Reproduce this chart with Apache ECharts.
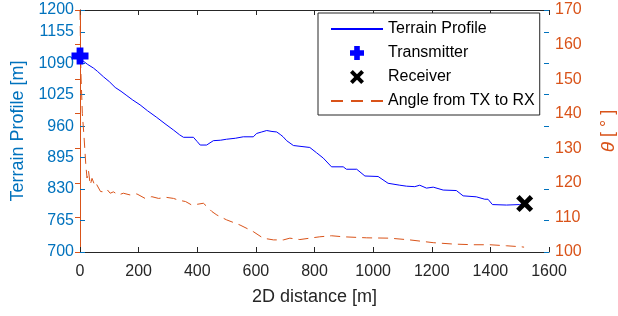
<!DOCTYPE html>
<html>
<head>
<meta charset="utf-8">
<script src="https://cdn.jsdelivr.net/npm/echarts@6/dist/echarts.min.js"></script>
<style>
  html, body { margin: 0; padding: 0; background: #fff; }
  #chart { width: 618px; height: 316px; }
</style>
</head>
<body>
<div id="chart"></div>
<script>
// terrain profile (distance m, height m)
var terrainDist = [0, 10, 25, 46, 60, 80, 100, 120, 140, 160, 180, 205, 230, 262, 290, 319, 340, 353, 387, 400, 410, 432, 455, 480, 500, 530, 557, 591, 603, 620, 637, 655, 671, 685, 693, 705, 728, 784, 807, 830, 858, 898, 909, 944, 972, 1017, 1051, 1091, 1114, 1142, 1159, 1182, 1205, 1239, 1284, 1307, 1352, 1381, 1392, 1407, 1455, 1500, 1515];
var terrainHeight = [1098, 1095, 1088, 1080, 1073, 1062, 1052, 1040, 1032, 1023, 1014, 1004, 992, 978, 965, 952, 942, 937, 937, 928, 921, 921, 930, 931, 933, 935, 938, 938, 945, 948, 951, 949, 948, 942, 938, 930, 920, 916, 905, 894, 876, 876, 871, 871, 857, 856, 842, 838, 836, 835, 838, 832, 834, 828, 827, 816, 814, 809, 809, 798, 797, 798, 800];

// angle from TX to RX (distance m, degrees)
var angleDist = [0, 3, 8, 14, 20, 24, 29, 35, 41, 46, 52, 57, 70, 80, 92, 103, 114, 131, 148, 171, 194, 222, 245, 268, 295, 319, 336, 360, 381, 400, 421, 435, 450, 467, 500, 546, 591, 625, 660, 694, 716, 750, 784, 818, 858, 898, 978, 1057, 1125, 1205, 1273, 1341, 1398, 1455, 1506, 1515];
var angleDeg = [170, 152, 140, 133, 125, 121.4, 123.5, 119.4, 121.3, 121, 118.9, 119.5, 117.5, 117.4, 118.1, 117, 117.4, 116.5, 117, 116.5, 116.8, 115.5, 116, 115.5, 115.8, 115.5, 115, 114.6, 113.6, 113.8, 114.1, 113, 111.7, 110.7, 109.3, 107.8, 105.9, 104, 103.5, 103.5, 104, 103.6, 104, 104.4, 104.7, 104.4, 104.1, 104, 103.5, 102.7, 102.3, 102.1, 102.1, 101.8, 101.5, 101.4];

var txPoint = [0, 1105];
var rxPoint = [1517, 800];

var xTicks = [0, 1600, 200];
var leftTicks = [700, 1200, 65];
var rightTicks = [100, 170, 10];

function pairs(xs, ys) {
  var out = [];
  for (var i = 0; i < xs.length; i++) out.push([xs[i], ys[i]]);
  return out;
}
function plain(v) { return String(v); }

var blue = '#0072BD';
var orange = '#D95319';
var dark = '#262626';
var font = 'Liberation Sans';

var plusPath = 'path://M3,0 L7,0 L7,3 L10,3 L10,7 L7,7 L7,10 L3,10 L3,7 L0,7 L0,3 L3,3 Z';
var crossPath = 'path://M0,2 L2,0 L5,3 L8,0 L10,2 L7,5 L10,8 L8,10 L5,7 L2,10 L0,8 L3,5 Z';

var myChart = echarts.init(document.getElementById('chart'));
var option = {
  animation: false,
  textStyle: { fontFamily: font },
  grid: { left: 80, right: 69, top: 10, bottom: 64, containLabel: false, outerBoundsMode: 'none' },
  legend: {
    orient: 'vertical',
    left: 318,
    top: 13,
    padding: [8, 5, 6, 12],
    itemWidth: 52,
    itemHeight: 14,
    itemGap: 8,
    backgroundColor: '#fff',
    borderColor: dark,
    borderWidth: 1,
    borderRadius: 0,
    textStyle: { fontSize: 16, color: '#000', fontFamily: font },
    data: [
      { name: 'Terrain Profile', itemStyle: { opacity: 0 } },
      { name: 'Transmitter' },
      { name: 'Receiver' },
      { name: 'Angle from TX to RX', itemStyle: { opacity: 0 }, lineStyle: { type: [12, 8] } }
    ]
  },
  xAxis: [{
    type: 'value',
    min: xTicks[0], max: xTicks[1], interval: xTicks[2],
    name: '2D distance [m]',
    nameLocation: 'middle',
    nameGap: 36,
    nameTextStyle: { fontSize: 18, color: dark },
    axisLine: { lineStyle: { color: dark, width: 1 } },
    axisTick: { inside: true, length: 5, lineStyle: { color: dark } },
    axisLabel: { fontSize: 16, color: dark, margin: 12, formatter: plain },
    splitLine: { show: false }
  }, {
    type: 'value',
    position: 'top',
    min: xTicks[0], max: xTicks[1], interval: xTicks[2],
    axisLine: { show: true, lineStyle: { color: dark, width: 1 } },
    axisTick: { inside: true, length: 5, lineStyle: { color: dark } },
    axisLabel: { show: false },
    splitLine: { show: false }
  }],
  yAxis: [{
    type: 'value',
    min: leftTicks[0], max: leftTicks[1], interval: leftTicks[2],
    name: 'Terrain Profile [m]',
    nameLocation: 'middle',
    nameRotate: 90,
    nameGap: 50,
    nameTextStyle: { fontSize: 18, color: blue },
    axisLine: { show: true, lineStyle: { color: blue, width: 1 } },
    axisTick: { show: true, inside: true, length: 5, lineStyle: { color: blue } },
    axisLabel: { fontSize: 16, color: blue, margin: 6, formatter: plain },
    splitLine: { show: false }
  }, {
    type: 'value',
    position: 'right',
    min: rightTicks[0], max: rightTicks[1], interval: rightTicks[2],
    name: '{i|θ} [ ° ]',
    nameLocation: 'middle',
    nameRotate: 90,
    nameGap: 50,
    nameTextStyle: {
      fontSize: 18, color: orange,
      rich: { i: { fontStyle: 'italic', fontSize: 19, color: orange } }
    },
    axisLine: { show: true, lineStyle: { color: orange, width: 1 } },
    axisTick: { show: true, inside: true, length: 5, lineStyle: { color: orange } },
    axisLabel: { fontSize: 16, color: orange, margin: 6, formatter: plain },
    splitLine: { show: false }
  }, {
    type: 'value',
    position: 'right',
    min: leftTicks[0], max: leftTicks[1], interval: leftTicks[2],
    axisLine: { show: false },
    axisTick: { show: true, inside: true, length: 5, lineStyle: { color: blue } },
    axisLabel: { show: false },
    splitLine: { show: false }
  }],
  series: [{
    name: 'Terrain Profile',
    type: 'line',
    yAxisIndex: 0,
    symbol: 'none',
    lineStyle: { color: '#0000FF', width: 1 },
    itemStyle: { color: '#0000FF' },
    data: pairs(terrainDist, terrainHeight),
    z: 3
  }, {
    name: 'Transmitter',
    type: 'scatter',
    yAxisIndex: 0,
    symbol: plusPath,
    symbolSize: 17,
    itemStyle: { color: '#0000FF', opacity: 1 },
    data: [txPoint],
    z: 5
  }, {
    name: 'Receiver',
    type: 'scatter',
    yAxisIndex: 0,
    symbol: crossPath,
    symbolSize: 17,
    itemStyle: { color: '#000', opacity: 1 },
    data: [rxPoint],
    z: 5
  }, {
    name: 'Angle from TX to RX',
    type: 'line',
    yAxisIndex: 1,
    symbol: 'none',
    lineStyle: { color: orange, width: 1, type: [10, 6] },
    itemStyle: { color: orange },
    data: pairs(angleDist, angleDeg),
    z: 2
  }]
};
myChart.setOption(option);
</script>
</body>
</html>
